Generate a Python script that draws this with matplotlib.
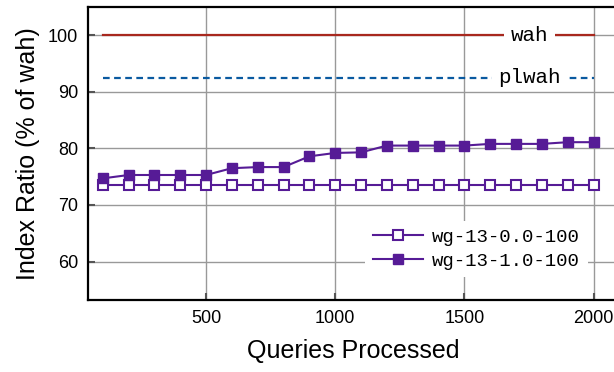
import matplotlib.pyplot as plt
from matplotlib.path import Path

# queries processed (x) and index ratio values (% of wah)
queries = [100, 200, 300, 400, 500, 600, 700, 800, 900, 1000,
           1100, 1200, 1300, 1400, 1500, 1600, 1700, 1800, 1900, 2000]
wg_00 = [73.5, 73.5, 73.5, 73.5, 73.5, 73.5, 73.5, 73.5, 73.5, 73.5,
         73.5, 73.5, 73.5, 73.5, 73.5, 73.5, 73.5, 73.5, 73.5, 73.5]
wg_10 = [74.7, 75.3, 75.3, 75.3, 75.3, 76.5, 76.7, 76.7, 78.6, 79.2,
         79.3, 80.5, 80.5, 80.5, 80.5, 80.8, 80.8, 80.8, 81.1, 81.1]
wah_level = 100.0
plwah_level = 92.5
x_range = [100, 2000]

purple = '#561b96'
sans = ['Liberation Sans', 'DejaVu Sans']
mono = ['Liberation Mono', 'DejaVu Sans Mono']


# box that only widens sideways, so the label cuts the line but not the grid
def side_box(padx):
    def box(x0, y0, width, height, mutation_size):
        return Path([(x0 - padx, y0 - 1), (x0 + width + padx, y0 - 1),
                     (x0 + width + padx, y0 + height + 1),
                     (x0 - padx, y0 + height + 1), (x0 - padx, y0 - 1)],
                    closed=True)
    return box


fig = plt.figure(figsize=(6.14, 3.72), dpi=100)
ax = fig.add_axes([88/614, 72/372, 531.4/614, 293/372])

ax.plot(x_range, [wah_level]*2, color='#a8281e', lw=1.6, zorder=3)
ax.plot(x_range, [plwah_level]*2, color='#0a5aa0', lw=1.6,
        dashes=(3, 2), zorder=3)
ax.text(1752, wah_level, 'wah', family=mono, fontsize=15, ha='center',
        va='center', zorder=4,
        bbox=dict(boxstyle=side_box(7), facecolor='white', edgecolor='none'))
ax.text(1752, plwah_level, 'plwah', family=mono, fontsize=15, ha='center',
        va='center', zorder=4,
        bbox=dict(boxstyle=side_box(6), facecolor='white', edgecolor='none'))

ax.plot(queries, wg_00, color=purple, lw=1.5, marker='s', ms=6.5,
        mfc='white', mec=purple, mew=1.5, label='wg-13-0.0-100', zorder=5)
ax.plot(queries, wg_10, color=purple, lw=1.5, marker='s', ms=6.5,
        mfc=purple, mec=purple, label='wg-13-1.0-100', zorder=5)

ax.set_xlim(43, 2100)
ax.set_ylim(53.2, 105)
ax.set_xticks([500, 1000, 1500, 2000])
ax.set_yticks([60, 70, 80, 90, 100])
ax.grid(True, color='#999999', lw=1)
ax.set_axisbelow(True)
ax.tick_params(direction='in', length=5, width=1.5, color='#555555',
               labelsize=13, pad=7)
for lab in ax.get_xticklabels() + ax.get_yticklabels():
    lab.set_family(sans)
for side in ['left', 'top', 'bottom']:
    ax.spines[side].set_linewidth(1.6)
    ax.spines[side].set_color('black')
ax.spines['right'].set_visible(False)

ax.set_xlabel('Queries Processed', family=sans, fontsize=18, labelpad=9)
ax.set_ylabel('Index Ratio (% of wah)', family=sans, fontsize=18, labelpad=6)

leg = ax.legend(loc='center', bbox_to_anchor=(476.5/614, 1 - 249/372),
                bbox_transform=fig.transFigure, prop={'family': mono, 'size': 13.7},
                frameon=True, fancybox=False, framealpha=1, edgecolor='none',
                handlelength=2.6, handletextpad=0.5, labelspacing=0.35,
                borderpad=0.4)
leg.set_zorder(6)

fig.savefig('out.png', dpi=100)
